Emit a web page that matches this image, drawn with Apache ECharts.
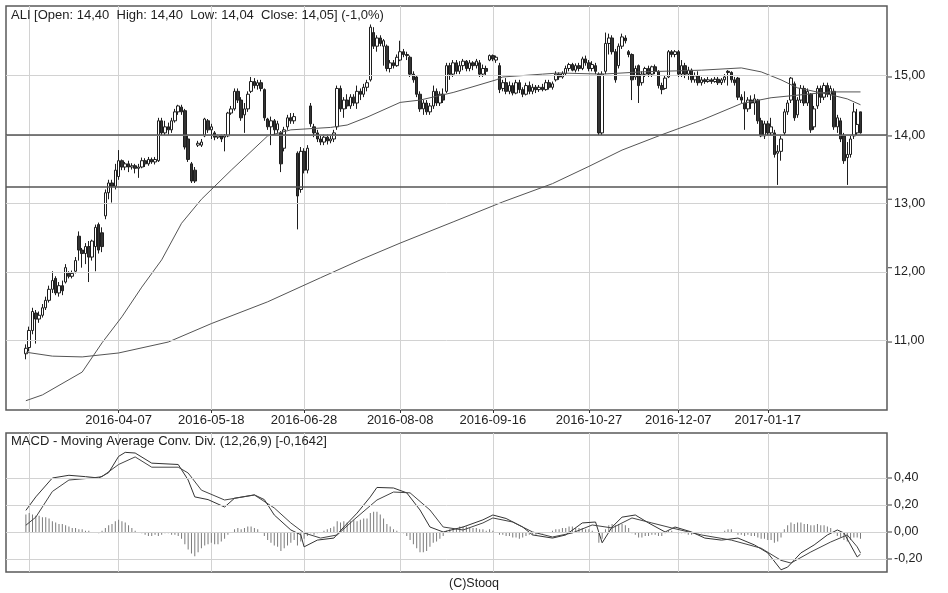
<!DOCTYPE html>
<html>
<head>
<meta charset="utf-8">
<script src="https://cdn.jsdelivr.net/npm/echarts@6/dist/echarts.min.js"></script>
<style>
html,body{margin:0;padding:0;background:#fff;}
#chart{width:948px;height:593px;}
</style>
</head>
<body>
<div id="chart"></div>
<script>
// ---- data ----
const firstDay = '2016-02-25';
const lastDay = '2017-02-24';
const holidays = ['2016-03-25','2016-03-28','2016-05-03','2016-05-26','2016-08-15','2016-11-01','2016-11-11','2016-12-26','2017-01-06'];
const gridDates = ['2016-02-26','2016-04-07','2016-05-18','2016-06-28','2016-08-08','2016-09-16','2016-10-27','2016-12-07','2017-01-17'];
const tickLabels = ['2016-04-07','2016-05-18','2016-06-28','2016-08-08','2016-09-16','2016-10-27','2016-12-07','2017-01-17'];
const priceTicks = [11, 12, 13, 14, 15];
const refLines = [14.00, 13.17];
const macdTicks = [-0.2, 0, 0.2, 0.4];

const opens = [
10.85,10.93,11.15,11.38,11.30,11.35,11.45,11.55,11.70,11.85,
11.65,11.75,11.80,11.92,11.88,11.95,12.45,12.25,12.20,12.30,
12.15,12.30,12.62,12.50,12.75,13.10,13.25,13.20,13.35,13.60,
13.50,13.55,13.50,13.52,13.48,13.50,13.60,13.55,13.62,13.58,
13.60,14.25,14.05,14.15,14.10,14.25,14.40,14.48,14.42,13.95,
13.55,13.45,13.85,13.85,14.00,14.25,14.10,14.05,13.98,14.00,
13.98,14.00,14.38,14.45,14.75,14.60,14.35,14.45,14.75,14.92,
14.85,14.90,14.78,14.28,14.15,14.25,14.10,14.05,13.80,14.15,
14.30,14.25,13.72,13.15,13.75,13.45,14.50,14.15,14.05,13.95,
13.90,13.98,13.92,13.95,14.15,14.80,14.45,14.60,14.50,14.65,
14.55,14.75,14.70,14.82,14.95,15.80,15.55,15.70,15.55,15.55,
15.15,15.25,15.20,15.30,15.45,15.40,15.35,15.05,15.00,14.70,
14.45,14.55,14.40,14.50,14.75,14.55,14.70,14.75,15.20,15.05,
15.25,15.10,15.20,15.28,15.15,15.25,15.20,15.25,15.05,15.15,
15.30,15.38,15.30,15.20,14.80,14.90,14.75,14.85,14.72,14.90,
14.78,14.70,14.85,14.75,14.82,14.78,14.82,14.78,14.90,14.82,
14.95,15.05,15.00,15.06,15.15,15.22,15.12,15.20,15.15,15.32,
15.25,15.15,15.20,15.05,14.05,15.10,15.60,15.70,15.45,15.20,
15.55,15.70,15.45,15.40,15.00,15.20,14.90,15.05,15.15,15.05,
15.18,15.10,14.85,14.80,15.00,15.45,15.40,15.45,15.05,15.20,
15.05,15.12,14.95,15.02,14.90,14.95,14.92,14.95,14.92,14.96,
14.90,14.95,15.10,15.08,14.95,14.98,14.65,14.55,14.45,14.60,
14.55,14.60,14.25,14.00,14.20,14.05,14.05,13.72,13.75,14.05,
14.40,14.60,14.88,14.35,14.60,14.80,14.55,14.70,14.15,14.50,
14.80,14.65,14.85,14.70,14.75,14.15,14.25,14.00,13.65,13.70,
14.00,14.05,14.40];
const highs = [
10.97,11.20,11.45,11.42,11.40,11.50,11.60,11.75,11.95,11.88,
11.80,11.82,12.05,11.95,11.96,12.15,12.52,12.28,12.35,12.38,
12.40,12.62,12.65,12.58,13.15,13.30,13.30,13.55,13.77,13.62,
13.58,13.60,13.56,13.55,13.55,13.65,13.64,13.66,13.65,13.66,
14.30,14.30,14.25,14.22,14.30,14.45,14.52,14.52,14.45,14.00,
13.58,13.50,13.92,13.95,14.30,14.28,14.20,14.08,14.02,14.02,
14.03,14.40,14.50,14.80,14.80,14.65,14.55,14.75,15.00,14.98,
14.95,14.95,14.80,14.30,14.32,14.28,14.25,14.08,14.15,14.35,
14.38,14.38,13.75,13.82,13.80,13.85,14.55,14.20,14.10,14.00,
14.02,14.02,14.00,14.10,14.85,14.85,14.65,14.70,14.70,14.70,
14.85,14.80,14.88,14.95,15.95,15.90,15.75,15.75,15.68,15.58,
15.30,15.30,15.40,15.65,15.50,15.45,15.38,15.10,15.03,14.75,
14.60,14.60,14.55,14.85,14.80,14.75,14.80,15.25,15.25,15.30,
15.30,15.28,15.32,15.30,15.30,15.28,15.32,15.30,15.22,15.20,
15.40,15.40,15.38,15.25,14.95,14.98,14.92,14.90,14.95,14.95,
14.82,14.90,14.92,14.88,14.86,14.86,14.88,14.95,14.95,14.92,
15.10,15.08,15.10,15.20,15.25,15.25,15.24,15.25,15.36,15.38,
15.30,15.28,15.25,15.08,15.10,15.80,15.78,15.75,15.50,15.60,
15.78,15.75,15.48,15.42,15.20,15.22,15.10,15.18,15.20,15.20,
15.22,15.12,14.90,15.02,15.48,15.48,15.48,15.48,15.30,15.25,
15.18,15.15,15.08,15.10,15.00,14.98,15.00,14.98,15.00,15.00,
14.98,15.05,15.12,15.10,15.00,15.00,14.70,14.75,14.65,14.68,
14.70,14.62,14.30,14.25,14.25,14.30,14.10,13.85,14.00,14.45,
14.60,15.00,14.92,14.65,14.86,14.85,14.80,14.72,14.50,14.85,
14.85,14.90,14.90,14.85,14.80,14.35,14.30,14.05,13.90,14.00,
14.55,14.45,14.40];
const lows = [
10.78,10.88,11.10,10.98,11.25,11.32,11.42,11.52,11.65,11.62,
11.60,11.62,11.78,11.85,11.85,11.92,12.10,12.00,12.05,11.80,
12.10,11.95,12.20,12.22,12.70,13.00,12.95,13.15,13.30,13.45,
13.45,13.42,13.46,13.40,13.33,13.48,13.50,13.52,13.55,13.54,
13.58,14.00,14.00,14.02,14.05,14.22,14.35,14.35,13.78,13.58,
13.25,13.25,13.82,13.82,13.98,14.05,13.95,13.93,13.95,13.90,
13.75,13.98,14.35,14.42,14.55,14.25,14.05,14.40,14.72,14.80,
14.78,14.75,14.25,14.10,13.85,14.02,14.05,13.42,13.75,14.10,
14.20,14.20,12.55,13.10,13.40,13.40,14.15,13.98,13.90,13.85,
13.85,13.86,13.88,13.90,14.10,14.40,14.30,14.45,14.45,14.50,
14.45,14.60,14.65,14.75,14.92,15.50,15.45,15.55,15.20,15.10,
15.08,15.15,15.18,15.28,15.35,15.30,15.00,14.90,14.65,14.40,
14.35,14.35,14.35,14.45,14.50,14.50,14.55,14.72,14.95,15.00,
15.05,15.05,15.12,15.10,15.10,15.12,15.15,15.00,15.00,15.02,
15.28,15.28,15.25,14.72,14.75,14.70,14.70,14.68,14.70,14.72,
14.65,14.68,14.70,14.70,14.72,14.74,14.75,14.76,14.78,14.78,
14.92,14.95,14.97,15.02,15.10,15.10,15.08,15.10,15.12,15.20,
15.10,15.10,15.05,14.00,14.00,15.05,15.40,15.40,14.90,15.15,
15.50,15.60,15.35,14.60,14.95,14.55,14.85,15.00,15.00,15.00,
15.05,14.80,14.70,14.78,14.98,15.35,15.35,15.00,15.00,14.98,
14.95,14.90,14.90,14.85,14.85,14.88,14.90,14.88,14.90,14.86,
14.86,14.90,14.85,14.90,14.85,14.60,14.55,14.10,14.40,14.45,
14.35,14.20,13.98,13.95,14.00,14.00,13.65,13.22,13.60,14.00,
14.35,14.55,14.25,14.30,14.55,14.50,14.50,14.05,14.10,14.45,
14.55,14.60,14.65,14.60,14.10,14.05,13.90,13.55,13.22,13.65,
13.95,14.00,14.04];
const closes = [
10.92,11.15,11.40,11.30,11.35,11.45,11.55,11.70,11.82,11.65,
11.75,11.68,12.00,11.88,11.92,12.10,12.25,12.20,12.30,12.15,
12.38,12.58,12.25,12.30,13.10,13.25,13.20,13.45,13.60,13.50,
13.55,13.50,13.52,13.48,13.50,13.60,13.55,13.62,13.58,13.62,
14.25,14.05,14.15,14.10,14.25,14.40,14.50,14.40,13.82,13.62,
13.28,13.28,13.88,13.90,14.28,14.10,14.15,13.98,14.00,13.95,
14.00,14.38,14.45,14.75,14.60,14.30,14.45,14.70,14.92,14.85,
14.90,14.80,14.30,14.15,14.25,14.10,14.20,13.55,14.10,14.30,
14.25,14.32,13.05,13.75,13.45,13.80,14.20,14.05,13.95,13.90,
13.98,13.92,13.95,14.05,14.80,14.45,14.60,14.50,14.65,14.55,
14.75,14.70,14.82,14.90,15.90,15.55,15.70,15.60,15.65,15.15,
15.25,15.20,15.35,15.45,15.40,15.38,15.05,14.95,14.70,14.45,
14.55,14.40,14.50,14.75,14.55,14.70,14.60,15.20,15.05,15.25,
15.10,15.20,15.28,15.15,15.25,15.20,15.28,15.05,15.15,15.10,
15.38,15.32,15.35,14.78,14.90,14.75,14.85,14.72,14.90,14.78,
14.70,14.85,14.75,14.82,14.78,14.82,14.78,14.90,14.82,14.88,
15.05,15.00,15.06,15.15,15.22,15.12,15.20,15.15,15.32,15.25,
15.15,15.22,15.10,14.05,15.05,15.60,15.70,15.45,14.95,15.55,
15.72,15.65,15.40,14.95,15.15,14.85,15.05,15.15,15.05,15.18,
15.10,14.85,14.78,14.98,15.45,15.40,15.45,15.05,15.20,15.05,
15.12,14.95,15.02,14.90,14.95,14.92,14.95,14.92,14.96,14.90,
14.95,15.00,15.08,14.95,14.90,14.65,14.60,14.45,14.60,14.55,
14.62,14.25,14.00,14.20,14.05,14.15,13.70,13.75,13.95,14.40,
14.55,14.98,14.30,14.60,14.80,14.55,14.75,14.10,14.45,14.80,
14.65,14.85,14.70,14.80,14.15,14.30,13.95,13.60,13.70,13.95,
14.40,14.19,14.05];

// moving averages read at selected bars (bar number, value)
const maSlowBars = [0,8,17,28,43,56,73,89,101,113,129,144,159,170,180,192,204,216,225,234,243,252];
const maSlowVals = [10.87,10.82,10.81,10.86,11.00,11.24,11.53,11.86,12.11,12.35,12.66,12.96,13.24,13.51,13.77,14.02,14.26,14.54,14.64,14.69,14.74,14.74];
const maMidBars = [0,5,17,23,29,35,41,47,53,62,73,80,92,97,103,113,119,129,135,142,144,156,161,174,186,204,216,222,228,233,243,248,252];
const maMidVals = [10.27,10.34,10.62,10.99,11.33,11.73,12.11,12.64,13.00,13.45,14.00,14.10,14.14,14.18,14.31,14.56,14.60,14.73,14.83,14.95,15.00,15.05,15.07,15.05,15.09,15.12,15.16,15.09,14.95,14.81,14.69,14.62,14.52];

// MACD lines read at selected bars
const macdBars = [0,3,8,13,18,22,25,28,30,33,38,46,49,51,55,60,63,69,72,75,80,83,84,88,93,96,100,104,106,111,115,119,122,126,132,138,141,145,150,153,159,163,168,172,174,177,180,184,188,193,196,201,205,210,215,220,224,228,230,234,238,242,245,247,249,251,252];
const macdVals = [0.16,0.26,0.40,0.42,0.41,0.40,0.44,0.56,0.59,0.585,0.51,0.50,0.385,0.26,0.24,0.185,0.25,0.275,0.24,0.126,0.015,-0.02,-0.11,-0.06,-0.045,0.037,0.14,0.26,0.33,0.326,0.29,0.163,0.037,0.0,0.037,0.09,0.126,0.10,0.037,-0.022,-0.045,-0.022,0.067,0.074,-0.08,0.037,0.11,0.126,0.067,0.0,0.037,0.0,-0.045,-0.06,-0.045,-0.096,-0.155,-0.28,-0.26,-0.155,-0.096,-0.022,0.015,-0.007,-0.096,-0.185,-0.164];
const signalBars = [0,3,8,13,20,23,28,33,38,46,49,53,60,69,75,80,84,89,94,99,106,111,116,122,126,132,138,141,147,153,159,165,171,177,183,189,195,204,213,222,228,231,237,243,248,251,252];
const signalVals = [0.05,0.11,0.30,0.385,0.40,0.41,0.50,0.556,0.48,0.48,0.437,0.31,0.237,0.274,0.178,0.067,-0.007,-0.045,-0.022,0.09,0.237,0.296,0.29,0.163,0.037,0.015,0.067,0.104,0.074,0.0,-0.037,-0.007,0.052,0.03,0.104,0.067,0.03,-0.022,-0.06,-0.12,-0.21,-0.23,-0.148,-0.074,-0.022,-0.11,-0.155];
const histVals = [
0.13,0.14,0.13,0.12,0.12,0.11,0.11,0.10,0.08,0.07,
0.06,0.06,0.05,0.04,0.03,0.03,0.02,0.02,0.01,0.01,
0.00,0.00,-0.01,0.01,0.03,0.05,0.06,0.08,0.09,0.08,
0.07,0.05,0.03,0.01,0.00,-0.01,-0.02,-0.03,-0.03,-0.02,
-0.03,-0.02,-0.01,-0.01,-0.02,-0.02,-0.03,-0.05,-0.09,-0.13,
-0.16,-0.18,-0.15,-0.12,-0.10,-0.09,-0.08,-0.09,-0.09,-0.07,
-0.05,-0.02,0.00,0.02,0.03,0.02,0.03,0.04,0.04,0.03,
0.02,0.00,-0.03,-0.06,-0.08,-0.10,-0.11,-0.14,-0.12,-0.10,
-0.08,-0.06,-0.10,-0.07,-0.05,-0.03,-0.01,-0.02,-0.01,0.00,
0.01,0.02,0.03,0.04,0.08,0.07,0.08,0.07,0.08,0.09,
0.08,0.09,0.10,0.10,0.14,0.15,0.15,0.13,0.10,0.06,
0.04,0.02,0.01,0.00,-0.01,-0.03,-0.06,-0.09,-0.12,-0.15,
-0.15,-0.14,-0.11,-0.08,-0.07,-0.05,-0.03,0.01,0.02,0.03,
0.03,0.04,0.04,0.04,0.03,0.03,0.03,0.02,0.02,0.01,
0.02,0.01,0.00,-0.02,-0.02,-0.03,-0.03,-0.04,-0.04,-0.05,
-0.04,-0.03,-0.02,-0.02,-0.02,-0.01,-0.01,0.00,0.00,0.01,
0.02,0.02,0.03,0.03,0.04,0.04,0.03,0.03,0.03,0.02,
0.02,0.01,0.00,-0.08,-0.05,0.02,0.05,0.06,0.05,0.06,
0.06,0.05,0.03,-0.01,-0.02,-0.04,-0.04,-0.03,-0.03,-0.02,
-0.02,-0.03,-0.03,-0.01,0.01,0.01,0.00,-0.01,-0.01,-0.01,
-0.02,-0.02,-0.01,-0.01,-0.01,-0.01,-0.01,-0.01,0.00,0.00,
0.00,0.01,0.02,0.02,0.00,-0.02,-0.02,-0.03,-0.02,-0.03,
-0.03,-0.04,-0.05,-0.05,-0.06,-0.06,-0.08,-0.07,-0.04,0.02,
0.05,0.07,0.06,0.07,0.07,0.06,0.06,0.05,0.05,0.06,
0.05,0.05,0.04,0.03,-0.01,-0.03,-0.04,-0.06,-0.07,-0.06,
-0.04,-0.04,-0.05];

const titleText = 'ALI [Open: 14,40  High: 14,40  Low: 14,04  Close: 14,05] (-1,0%)';
const macdTitle = 'MACD - Moving Average Conv. Div. (12,26,9) [-0,1642]';
const footer = '(C)Stooq';

// ---- build ----
function tradingDays(start, end, hol) {
  const hs = new Set(hol), out = [];
  let t = Date.parse(start + 'T00:00:00Z');
  const e = Date.parse(end + 'T00:00:00Z');
  while (t <= e) {
    const d = new Date(t), wd = d.getUTCDay(), s = d.toISOString().slice(0, 10);
    if (wd !== 0 && wd !== 6 && !hs.has(s)) out.push(s);
    t += 86400000;
  }
  return out;
}
const days = tradingDays(firstDay, lastDay, holidays);
const PAD_L = 6, PAD_R = 8;
const cats = [];
for (let i = 0; i < PAD_L; i++) cats.push('');
days.forEach(d => cats.push(d));
for (let i = 0; i < PAD_R; i++) cats.push('');
const lastCat = cats.length - 1;
const gridSet = new Set(gridDates), labelSet = new Set(tickLabels);

const L = Math.log;
const n = Math.min(days.length, closes.length);
const candleData = [];
for (let i = 0; i < n; i++) candleData.push([i + PAD_L, L(opens[i]), L(closes[i]), L(lows[i]), L(highs[i])]);
const pairs = (bars, vals, f) => bars.map((b, j) => [b + PAD_L, f ? f(vals[j]) : vals[j]]);
const histData = histVals.map((v, i) => [i + PAD_L, v]);

const fmt = v => v.toFixed(2).replace('.', ',');
const FONT = 'Liberation Sans, Arial, sans-serif';
const gridColor = '#d2d2d2';
const textColor = '#222';

const chart = echarts.init(document.getElementById('chart'), null, { renderer: 'canvas' });
const xCommon = {
  type: 'category', data: cats, boundaryGap: false,
  axisLine: { show: false },
  splitLine: { show: true, interval: (i, v) => gridSet.has(v), lineStyle: { color: gridColor, width: 1 } }
};
const yLabel = v => ({ show: true, position: 'end', distance: 7, formatter: fmt(v), color: textColor, fontSize: 12.5, fontFamily: FONT });
const tickMarks = (xi, yi, vals, f) => ({
  type: 'scatter', xAxisIndex: xi, yAxisIndex: yi, z: 5, silent: true, clip: false,
  symbol: 'rect', symbolSize: [4, 1.2], symbolOffset: [3, 0],
  itemStyle: { color: '#333' },
  data: vals.map(v => [lastCat, f ? f(v) : v])
});
chart.setOption({
  animation: false,
  backgroundColor: '#fff',
  textStyle: { fontFamily: FONT },
  title: [
    { text: titleText, left: 11, top: 9, padding: 0, textStyle: { fontSize: 13, fontWeight: 'normal', color: textColor, fontFamily: FONT } },
    { text: macdTitle, left: 11, top: 435, padding: 0, textStyle: { fontSize: 13, fontWeight: 'normal', color: textColor, fontFamily: FONT } },
    { text: footer, left: 'center', top: 577, padding: 0, textStyle: { fontSize: 12.5, fontWeight: 'normal', color: textColor, fontFamily: FONT } }
  ],
  grid: [
    { left: 6, right: 61, top: 6, height: 404, show: true, borderColor: '#5a5a5a', borderWidth: 1.5, backgroundColor: 'transparent' },
    { left: 6, right: 61, top: 433, height: 139, show: true, borderColor: '#5a5a5a', borderWidth: 1.5, backgroundColor: 'transparent' }
  ],
  xAxis: [
    Object.assign({}, xCommon, {
      gridIndex: 0,
      axisTick: { show: true, interval: (i, v) => labelSet.has(v), length: 3, lineStyle: { color: '#333' } },
      axisLabel: { show: true, interval: (i, v) => labelSet.has(v), margin: 4, fontSize: 13, color: textColor, fontFamily: FONT }
    }),
    Object.assign({}, xCommon, {
      gridIndex: 1,
      axisTick: { show: false },
      axisLabel: { show: false }
    })
  ],
  yAxis: [
    { type: 'value', gridIndex: 0, position: 'right', min: L(10.159), max: L(16.299),
      axisLabel: { show: false }, splitLine: { show: false }, axisLine: { show: false }, axisTick: { show: false } },
    { type: 'value', gridIndex: 1, position: 'right', min: -0.2963, max: 0.7333,
      axisLabel: { show: false }, splitLine: { show: false }, axisLine: { show: false }, axisTick: { show: false } }
  ],
  series: [
    { type: 'line', xAxisIndex: 0, yAxisIndex: 0, data: [], z: 1, silent: true,
      markLine: { silent: true, symbol: ['none', 'none'], animation: false,
        data: priceTicks.map(v => ({ yAxis: L(v), lineStyle: { color: gridColor, width: 1, type: 'solid' }, label: yLabel(v) }))
          .concat(refLines.map(v => ({ yAxis: L(v), lineStyle: { color: '#555', width: 1.5, type: 'solid' }, label: { show: false } })))
      } },
    { type: 'candlestick', xAxisIndex: 0, yAxisIndex: 0, z: 3, barWidth: 3,
      encode: { x: 0, y: [1, 2, 3, 4] },
      data: candleData,
      itemStyle: { color: '#ffffff', color0: '#333333', borderColor: '#1e1e1e', borderColor0: '#1e1e1e', borderWidth: 1 } },
    { type: 'line', xAxisIndex: 0, yAxisIndex: 0, z: 4, showSymbol: false,
      data: pairs(maMidBars, maMidVals, L), lineStyle: { color: '#555', width: 1 } },
    { type: 'line', xAxisIndex: 0, yAxisIndex: 0, z: 4, showSymbol: false,
      data: pairs(maSlowBars, maSlowVals, L), lineStyle: { color: '#555', width: 1 } },
    tickMarks(0, 0, priceTicks, L),
    { type: 'line', xAxisIndex: 1, yAxisIndex: 1, data: [], z: 1, silent: true,
      markLine: { silent: true, symbol: ['none', 'none'], animation: false,
        data: macdTicks.map(v => ({ yAxis: v, lineStyle: { color: gridColor, width: 1, type: 'solid' }, label: yLabel(v) }))
      } },
    { type: 'bar', xAxisIndex: 1, yAxisIndex: 1, z: 2, barWidth: 1, data: histData,
      itemStyle: { color: '#7a7a7a' } },
    { type: 'line', xAxisIndex: 1, yAxisIndex: 1, z: 3, showSymbol: false,
      data: pairs(macdBars, macdVals), lineStyle: { color: '#333', width: 1 } },
    { type: 'line', xAxisIndex: 1, yAxisIndex: 1, z: 3, showSymbol: false,
      data: pairs(signalBars, signalVals), lineStyle: { color: '#444', width: 1 } },
    tickMarks(1, 1, macdTicks)
  ]
});
</script>
</body>
</html>
